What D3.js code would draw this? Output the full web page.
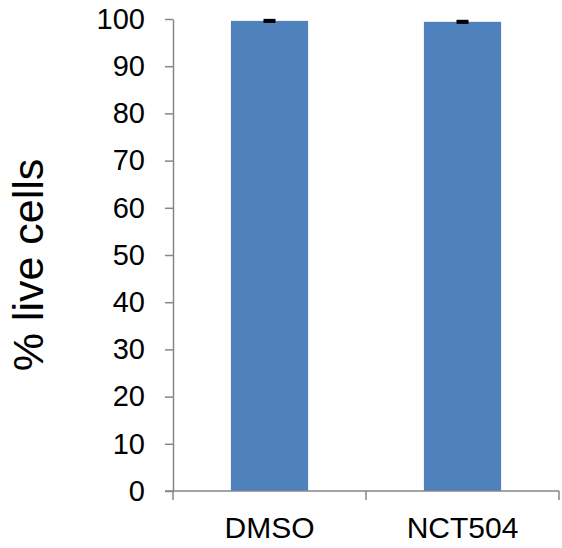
<!DOCTYPE html>
<html>
<head>
<meta charset="utf-8">
<script src="https://cdn.jsdelivr.net/npm/d3@7"></script>
<style>
  body { margin: 0; background: #fff; }
  svg { display: block; font-family: Arial, "Liberation Sans", sans-serif; }
</style>
</head>
<body>
<svg width="562" height="548"></svg>
<script>
// data
var categories = ["DMSO", "NCT504"];
var liveCells = [99.6, 99.4];
var errors = [0.2, 0.2];
var yTicks = [0, 10, 20, 30, 40, 50, 60, 70, 80, 90, 100];

var svg = d3.select("svg");

var x = d3.scaleBand()
    .domain(categories)
    .range([173, 559])
    .paddingInner(0.6)
    .paddingOuter(0.3);

var y = d3.scaleLinear()
    .domain([0, 100])
    .range([491, 19]);

// bars
svg.selectAll(".bar")
    .data(categories)
    .enter().append("rect")
    .attr("class", "bar")
    .attr("x", function(d) { return x(d); })
    .attr("width", x.bandwidth())
    .attr("y", function(d, i) { return y(liveCells[i]); })
    .attr("height", function(d, i) { return y(0) - y(liveCells[i]); })
    .attr("fill", "#4F81BD");

// error bars
var err = svg.selectAll(".err")
    .data(categories)
    .enter().append("g")
    .attr("class", "err")
    .attr("stroke", "#000")
    .attr("stroke-width", 2.2);

err.append("line")
    .attr("x1", function(d) { return x(d) + x.bandwidth() / 2; })
    .attr("x2", function(d) { return x(d) + x.bandwidth() / 2; })
    .attr("y1", function(d, i) { return y(liveCells[i] - errors[i]); })
    .attr("y2", function(d, i) { return y(liveCells[i] + errors[i]); });

[-1, 1].forEach(function(s) {
    err.append("line")
        .attr("x1", function(d) { return x(d) + x.bandwidth() / 2 - 6; })
        .attr("x2", function(d) { return x(d) + x.bandwidth() / 2 + 6; })
        .attr("y1", function(d, i) { return y(liveCells[i] + s * errors[i]); })
        .attr("y2", function(d, i) { return y(liveCells[i] + s * errors[i]); });
});

// y axis
var yAxis = svg.append("g")
    .attr("transform", "translate(173,0)")
    .call(d3.axisLeft(y).tickValues(yTicks).tickSize(8).tickPadding(20).tickSizeOuter(0));

yAxis.selectAll("text")
    .attr("font-size", 29)
    .attr("fill", "#000")
    .attr("font-family", "Arial, 'Liberation Sans', sans-serif");

yAxis.selectAll(".domain, .tick line")
    .attr("stroke", "#868686")
    .attr("stroke-width", 1.5);

// x axis: ticks on the category boundaries
var xAxis = svg.append("g")
    .attr("transform", "translate(0,491)");

var bounds = [173, 173 + x.step(), 559];
xAxis.append("line")
    .attr("x1", 165).attr("x2", 559)
    .attr("y1", 0).attr("y2", 0);
xAxis.selectAll(".xt")
    .data(bounds)
    .enter().append("line")
    .attr("class", "xt")
    .attr("x1", function(d) { return d; })
    .attr("x2", function(d) { return d; })
    .attr("y1", 0).attr("y2", 9);
xAxis.selectAll("line").attr("stroke", "#868686").attr("stroke-width", 1.5);

xAxis.selectAll("text")
    .data(categories)
    .enter().append("text")
    .attr("x", function(d) { return x(d) + x.bandwidth() / 2; })
    .attr("y", 47)
    .attr("text-anchor", "middle")
    .attr("font-size", 30)
    .attr("fill", "#000")
    .text(function(d) { return d; });

// y title
svg.append("text")
    .attr("transform", "translate(43,265) rotate(-90)")
    .attr("text-anchor", "middle")
    .attr("font-size", 43)
    .attr("fill", "#000")
    .text("% live cells");
</script>
</body>
</html>
